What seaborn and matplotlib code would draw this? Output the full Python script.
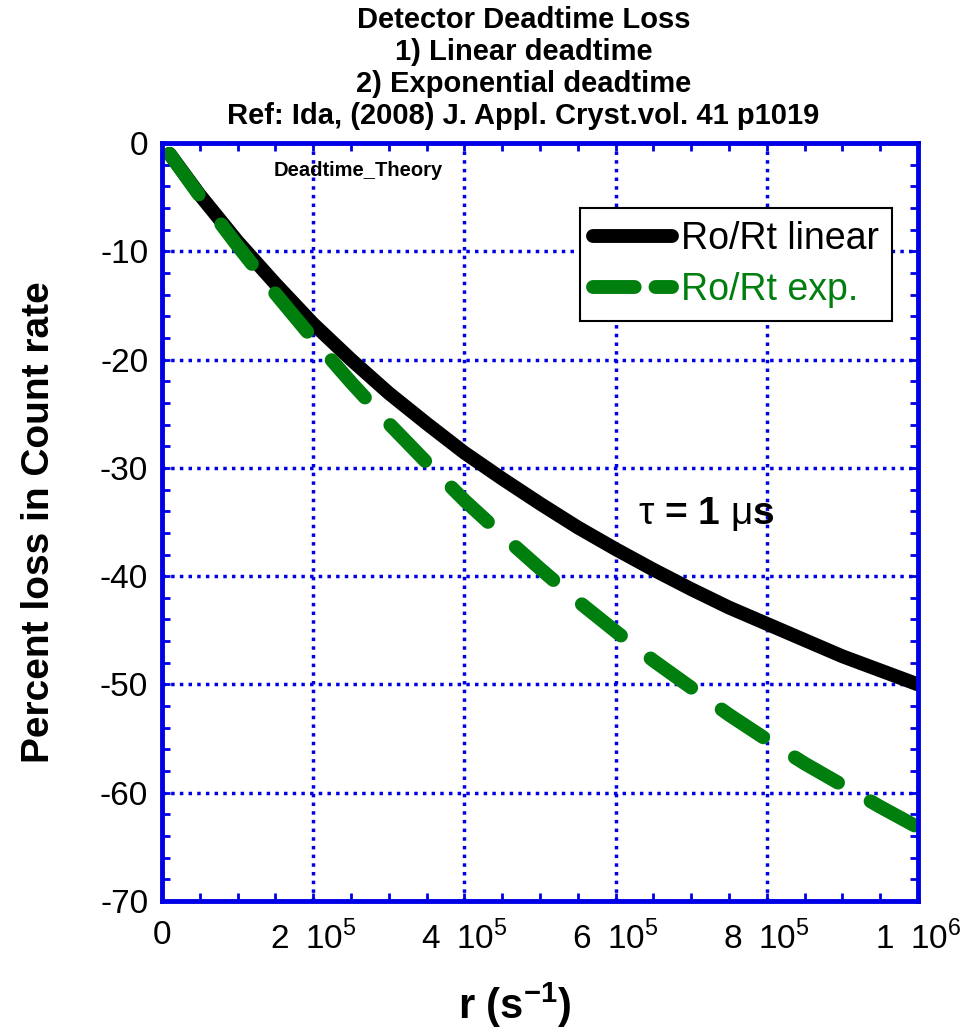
import numpy as np
import pandas as pd
import seaborn as sns
import matplotlib.pyplot as plt
from matplotlib.lines import Line2D
from matplotlib.ticker import MultipleLocator

# count rate r (1/s) and percent loss
rate = [1e4, 5e4, 1e5, 1.5e5, 2e5, 2.5e5, 3e5, 3.5e5, 4e5, 4.5e5, 5e5,
        5.5e5, 6e5, 6.5e5, 7e5, 7.5e5, 8e5, 8.5e5, 9e5, 9.5e5, 1e6]
loss_linear = [-1.0, -4.8, -9.1, -13.0, -16.7, -20.0, -23.1, -25.9, -28.6, -31.0, -33.3,
               -35.5, -37.5, -39.4, -41.2, -42.9, -44.4, -45.9, -47.4, -48.7, -50.0]
loss_exp = [-1.0, -4.9, -9.5, -13.9, -18.1, -22.1, -25.9, -29.5, -33.0, -36.2, -39.3,
            -42.3, -45.1, -47.8, -50.3, -52.8, -55.1, -57.3, -59.3, -61.3, -63.2]

xticks = [0, 2e5, 4e5, 6e5, 8e5, 1e6]
xtick_labels = ['0', '2\u200210$^{5}$', '4\u200210$^{5}$', '6\u200210$^{5}$',
                '8\u200210$^{5}$', '1\u200210$^{6}$']
yticks = [0, -10, -20, -30, -40, -50, -60, -70]

df = pd.DataFrame({'r': rate, 'linear': loss_linear, 'exp': loss_exp})

sns.set_style('ticks')
plt.rcParams['font.family'] = ['Liberation Sans', 'DejaVu Sans']
plt.rcParams['mathtext.fontset'] = 'custom'
plt.rcParams['mathtext.rm'] = 'Liberation Sans'
plt.rcParams['mathtext.bf'] = 'Liberation Sans:bold'
plt.rcParams['text.color'] = 'black'
plt.rcParams['axes.labelcolor'] = 'black'
plt.rcParams['xtick.labelcolor'] = 'black'
plt.rcParams['ytick.labelcolor'] = 'black'

blue = '#0000e6'
green = '#007f0f'

fig = plt.figure(figsize=(9.76, 10.34), dpi=100)
ax = fig.add_axes([0.166, 0.1286, 0.7746, 0.7331])

sns.lineplot(data=df, x='r', y='linear', ax=ax, color='black', lw=10,
             solid_capstyle='round', sort=False)
sns.lineplot(data=df, x='r', y='exp', ax=ax, color=green, lw=10,
             linestyle=(0, (3.6, 2.7)), dash_capstyle='round', sort=False)

ax.set_xlim(0, 1e6)
ax.set_ylim(-70, 0)
ax.set_xticks(xticks)
ax.set_xticklabels(xtick_labels)
ax.set_yticks(yticks)
ax.set_yticklabels([str(v) for v in yticks])
ax.xaxis.set_minor_locator(MultipleLocator(5e4))
ax.yaxis.set_minor_locator(MultipleLocator(2))
ax.tick_params(which='both', direction='in', top=True, right=True,
               color=blue, width=2)
ax.tick_params(which='major', length=6, labelsize=24)
ax.tick_params(axis='x', which='major', pad=14)
ax.tick_params(axis='y', which='major', pad=10)
ax.tick_params(which='minor', length=6)
ax.grid(True, which='major', color=blue, linestyle=(0, (1, 1.5)), lw=2.5)
for s in ax.spines.values():
    s.set_color(blue)
    s.set_linewidth(3.5)

ax.set_xlabel('r (s$^{\\mathbf{-1}}$)', fontsize=30, fontweight='bold', labelpad=18, x=0.467)
ax.set_ylabel('Percent loss in Count rate', fontsize=28, fontweight='bold', labelpad=31)
ax.set_title('Detector Deadtime Loss\n1) Linear deadtime\n2) Exponential deadtime\n'
             'Ref: Ida, (2008) J. Appl. Cryst.vol. 41 p1019',
             fontsize=21, fontweight='bold', linespacing=1.18, pad=14, x=0.478)

ax.text(1.47e5, -2.5, 'Deadtime_Theory', fontsize=14.5, fontweight='bold', va='center')
ax.text(6.3e5, -34.3, '$\\mathrm{\\tau}$ = 1 $\\mathrm{\\mu}$s', fontsize=28,
        fontweight='bold', va='center')

handles = [Line2D([], [], color='black', lw=10, solid_capstyle='round'),
           Line2D([], [], color=green, lw=10, linestyle=(0, (3.0, 1.5)),
                  dash_capstyle='round')]
leg = ax.legend(handles, ['Ro/Rt linear', 'Ro/Rt exp.'], loc='upper right',
                bbox_to_anchor=(0.966, 0.914), fontsize=27, handlelength=2.1,
                handletextpad=0.25, borderpad=0.35, labelspacing=0.4,
                borderaxespad=0.0, fancybox=False, framealpha=1, edgecolor='black')
leg.get_frame().set_linewidth(1.5)
for t, c in zip(leg.get_texts(), ['black', green]):
    t.set_color(c)

plt.savefig('out.png', dpi=100)
